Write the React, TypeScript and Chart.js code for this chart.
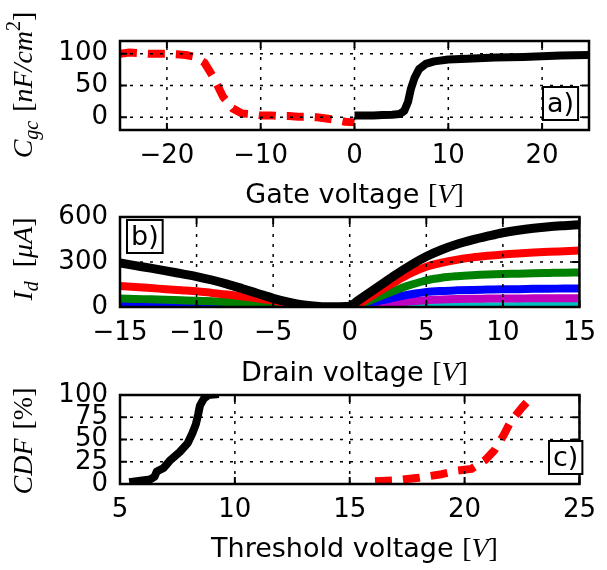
import React, { useEffect, useRef } from "react";
import { Chart, registerables } from "chart.js";

Chart.register(...registerables);

// ---------------- data ----------------
// Panel a) gate capacitance vs gate voltage
const gateVoltageRed = [-25, -24, -23, -22, -21, -20, -19, -18, -17, -16, -15, -14, -13, -12, -11, -10, -9, -8, -7, -6, -5, -4, -3, -2, -1, 0];
const cgcRed = [100, 102, 101, 100, 100, 100, 99, 98, 95, 86, 62, 32, 14, 6, 5, 3, 3, 2, 2, 1, 1, 0, -2, -4, -7, -8];
const gateVoltageBlack = [0, 1, 2, 3, 4, 4.8, 5.3, 5.7, 6.0, 6.4, 6.9, 7.6, 8.5, 10, 12, 15, 18, 20, 22, 25];
const cgcBlack = [3, 3, 3, 3.5, 4, 5, 10, 24, 44, 62, 76, 84, 88, 91, 92, 94, 95, 96, 97, 98];
const gateXTicks = [-20, -10, 0, 10, 20];
const gateYTicks = [0, 50, 100];

// Panel b) drain current vs drain voltage
const drainVoltage = [-15, -14, -13, -12, -11, -10, -9, -8, -7, -6, -5, -4, -3, -2, -1, 0, 0.5, 1, 2, 3, 4, 5, 6, 7, 8, 9, 10, 11, 12, 13, 14, 15];
const idBlack = [293, 276, 259, 241, 222, 203, 180, 153, 122, 90, 58, 32, 13, 4, 2, 5, 40, 75, 145, 215, 280, 337, 382, 418, 447, 472, 495, 512, 525, 535, 542, 548];
const idRed = [140, 133, 126, 119, 112, 105, 94, 83, 70, 57, 43, 24, 6, 0, 0, 0, 15, 45, 110, 170, 225, 268, 295, 315, 330, 341, 350, 357, 363, 368, 372, 376];
const idGreen = [57, 54, 51, 48, 45, 42, 38, 33, 27, 21, 15, 8, 2, 0, 0, 0, 10, 30, 72, 112, 148, 178, 195, 205, 212, 217, 220, 222, 225, 227, 229, 230];
const idBlue = [8, 6, 4, 3, 2, 1, 0, 0, 0, 0, 0, 0, 0, 0, 0, 0, 6, 18, 42, 65, 85, 100, 107, 111, 114, 116, 118, 119, 121, 122, 123, 124];
const idMagenta = [0, 0, 0, 0, 0, 0, 0, 0, 0, 0, 0, 0, 0, 0, 0, 0, 3, 8, 18, 29, 38, 45, 50, 53, 55, 56, 57, 57, 58, 58, 58, 58];
const idCyan = [0, 0, 0, 0, 0, 0, 0, 0, 0, 0, 0, 0, 0, 0, 0, 0, 0, 1, 2, 3, 3, 4, 4, 5, 5, 5, 5, 6, 6, 6, 6, 6];
const drainXTicks = [-15, -10, -5, 0, 5, 10, 15];
const drainYTicks = [0, 300, 600];

// Panel c) CDF of threshold voltage
const thresholdBlack = [5.4, 6.3, 6.5, 6.6, 6.9, 7.2, 7.6, 7.95, 8.15, 8.3, 8.4, 8.48, 8.65, 8.85, 9.3];
const cdfBlack = [2, 5, 8, 14, 18, 27, 36, 46, 57, 67, 78, 88, 96, 100, 101];
const thresholdRed = [16.1, 17, 18, 19, 19.7, 20.3, 20.9, 21.3, 21.7, 22.0, 22.5, 23.0];
const cdfRed = [3, 4, 7, 11, 15, 17, 27, 38, 55, 70, 86, 100];
const thresholdXTicks = [5, 10, 15, 20, 25];
const thresholdYTicks = [0, 25, 50, 75, 100];

// ---------------- layout ----------------
const W = 607;
const H = 570;
const FRAME_L = 120;
const FRAME_R = 589;
const XAXIS_H = 40;

type Seg = { t?: string; f?: string; dy?: number; gap?: number };

const mi = (s: number) => `italic ${s}px "Liberation Serif"`;
const mr = (s: number) => `${s}px "Liberation Serif"`;
const sans = (s: number) => `${s}px "DejaVu Sans"`;

function drawRich(ctx: CanvasRenderingContext2D, segs: Seg[], cx: number, cy: number, rot: number) {
  ctx.save();
  ctx.translate(cx, cy);
  ctx.rotate(rot);
  ctx.textBaseline = "alphabetic";
  ctx.textAlign = "left";
  ctx.fillStyle = "#000";
  let total = 0;
  const widths: number[] = [];
  for (const s of segs) {
    if (s.gap !== undefined) {
      widths.push(s.gap);
    } else {
      ctx.font = s.f as string;
      widths.push(ctx.measureText(s.t as string).width);
    }
    total += widths[widths.length - 1];
  }
  let x = -total / 2;
  segs.forEach((s, i) => {
    if (s.gap === undefined) {
      ctx.font = s.f as string;
      ctx.fillText(s.t as string, x, s.dy || 0);
    }
    x += widths[i];
  });
  ctx.restore();
}

const fmt = (v: number) => (v < 0 ? "\u2212" + Math.abs(v) : String(v));

type PanelCfg = {
  top: number;
  bottom: number;
  xMin: number;
  xMax: number;
  yMin: number;
  yMax: number;
  xTicks: number[];
  yTicks: number[];
  datasets: any[];
  box: { label: string; x: number; y: number };
  xTitle: Seg[];
  xTitleY: number;
  yTitle: Seg[];
  yTitleX: number;
  yTitleY: number;
};

function panelPlugin(cfg: PanelCfg) {
  return {
    id: "panelDecor",
    afterDatasetsDraw(chart: any) {
      const { ctx, chartArea: a, scales } = chart;
      const xs = scales.x;
      const ys = scales.y;
      ctx.save();
      // dotted grid (drawn over lines, like classic matplotlib)
      ctx.strokeStyle = "#000";
      ctx.lineWidth = 1.5;
      ctx.setLineDash([3, 7]);
      for (const v of cfg.xTicks) {
        const px = xs.getPixelForValue(v);
        ctx.beginPath();
        ctx.moveTo(px, a.bottom);
        ctx.lineTo(px, a.top);
        ctx.stroke();
      }
      for (const v of cfg.yTicks) {
        const py = ys.getPixelForValue(v);
        ctx.beginPath();
        ctx.moveTo(a.left, py);
        ctx.lineTo(a.right, py);
        ctx.stroke();
      }
      ctx.setLineDash([]);
      // inward ticks on all sides
      const L = 7;
      ctx.lineWidth = 2;
      ctx.beginPath();
      for (const v of cfg.xTicks) {
        const px = xs.getPixelForValue(v);
        ctx.moveTo(px, a.bottom);
        ctx.lineTo(px, a.bottom - L);
        ctx.moveTo(px, a.top);
        ctx.lineTo(px, a.top + L);
      }
      for (const v of cfg.yTicks) {
        const py = ys.getPixelForValue(v);
        ctx.moveTo(a.left, py);
        ctx.lineTo(a.left + L, py);
        ctx.moveTo(a.right, py);
        ctx.lineTo(a.right - L, py);
      }
      ctx.stroke();
      // frame
      ctx.lineWidth = 2.5;
      ctx.strokeRect(a.left, a.top, a.right - a.left, a.bottom - a.top);
      // panel label box
      ctx.font = sans(27);
      const tw = ctx.measureText(cfg.box.label).width;
      const bw = tw + 8;
      const bh = 33;
      ctx.fillStyle = "#fff";
      ctx.fillRect(cfg.box.x, cfg.box.y, bw, bh);
      ctx.lineWidth = 2;
      ctx.strokeRect(cfg.box.x, cfg.box.y, bw, bh);
      ctx.fillStyle = "#000";
      ctx.textAlign = "left";
      ctx.textBaseline = "alphabetic";
      ctx.fillText(cfg.box.label, cfg.box.x + 4, cfg.box.y + 24.5);
      ctx.restore();
    },
    afterDraw(chart: any) {
      const ctx = chart.ctx;
      drawRich(ctx, cfg.xTitle, (FRAME_L + FRAME_R) / 2, cfg.xTitleY, 0);
      drawRich(ctx, cfg.yTitle, cfg.yTitleX, cfg.yTitleY, -Math.PI / 2);
    },
  };
}

function line(xs: number[], ys: number[], color: string, width: number, extra: any = {}) {
  return {
    data: xs.map((x, i) => ({ x, y: ys[i] })),
    borderColor: color,
    backgroundColor: color,
    borderWidth: width,
    pointRadius: 0,
    fill: false,
    tension: 0,
    clip: 0,
    borderCapStyle: "butt",
    borderJoinStyle: "round",
    ...extra,
  };
}

function makeChart(canvas: HTMLCanvasElement, cfg: PanelCfg) {
  const tickFont = { family: "DejaVu Sans", size: 26 };
  return new Chart(canvas, {
    type: "line",
    data: { datasets: cfg.datasets },
    options: {
      animation: false,
      responsive: false,
      events: [],
      layout: {
        padding: { left: 0, right: W - FRAME_R, top: cfg.top, bottom: H - cfg.bottom - XAXIS_H },
      },
      plugins: { legend: { display: false }, tooltip: { enabled: false } },
      scales: {
        x: {
          type: "linear",
          position: "bottom",
          min: cfg.xMin,
          max: cfg.xMax,
          afterBuildTicks: (s: any) => {
            s.ticks = cfg.xTicks.map((v) => ({ value: v }));
          },
          afterFit: (s: any) => {
            s.height = XAXIS_H;
          },
          grid: { display: false, drawTicks: false },
          border: { display: false },
          ticks: {
            autoSkip: false,
            maxRotation: 0,
            minRotation: 0,
            padding: 11,
            color: "#000",
            font: tickFont,
            callback: (v: any) => fmt(Number(v)),
          },
        },
        y: {
          type: "linear",
          position: "left",
          min: cfg.yMin,
          max: cfg.yMax,
          afterBuildTicks: (s: any) => {
            s.ticks = cfg.yTicks.map((v) => ({ value: v }));
          },
          afterFit: (s: any) => {
            s.width = FRAME_L;
          },
          grid: { display: false, drawTicks: false },
          border: { display: false },
          ticks: {
            autoSkip: false,
            padding: 12,
            color: "#000",
            font: tickFont,
            callback: (v: any) => fmt(Number(v)),
          },
        },
      },
    } as any,
    plugins: [panelPlugin(cfg) as any],
  });
}

const DASH = [17, 11];

const panelA: PanelCfg = {
  top: 41,
  bottom: 130,
  xMin: -25,
  xMax: 25,
  yMin: -20,
  yMax: 120,
  xTicks: gateXTicks,
  yTicks: gateYTicks,
  datasets: [
    line(gateVoltageBlack, cgcBlack, "#000000", 8),
    line(gateVoltageRed, cgcRed, "#ff0000", 8, { borderDash: DASH }),
  ],
  box: { label: "a)", x: 543, y: 87 },
  xTitle: [
    { t: "Gate voltage ", f: sans(27) },
    { t: "[", f: mr(28) },
    { t: "V", f: mi(28) },
    { t: "]", f: mr(28) },
  ],
  xTitleY: 203,
  yTitle: [
    { t: "C", f: mi(28) },
    { t: "gc", f: mi(20), dy: 6 },
    { gap: 9 },
    { t: "[", f: mr(28) },
    { t: "nF/cm", f: mi(28) },
    { t: "2", f: mr(20), dy: -12 },
    { t: "]", f: mr(28) },
  ],
  yTitleX: 32,
  yTitleY: 85,
};

const panelB: PanelCfg = {
  top: 217,
  bottom: 307,
  xMin: -15,
  xMax: 15,
  yMin: 0,
  yMax: 600,
  xTicks: drainXTicks,
  yTicks: drainYTicks,
  datasets: [
    line(drainVoltage, idBlack, "#000000", 9, { cubicInterpolationMode: "monotone" }),
    line(drainVoltage, idRed, "#ff0000", 8, { cubicInterpolationMode: "monotone" }),
    line(drainVoltage, idGreen, "#008000", 8, { cubicInterpolationMode: "monotone" }),
    line(drainVoltage, idBlue, "#0000ff", 8, { cubicInterpolationMode: "monotone" }),
    line(drainVoltage, idMagenta, "#bf00bf", 8, { cubicInterpolationMode: "monotone" }),
    line(drainVoltage, idCyan, "#00bfbf", 8, { cubicInterpolationMode: "monotone" }),
  ],
  box: { label: "b)", x: 127, y: 220 },
  xTitle: [
    { t: "Drain voltage ", f: sans(27) },
    { t: "[", f: mr(28) },
    { t: "V", f: mi(28) },
    { t: "]", f: mr(28) },
  ],
  xTitleY: 381,
  yTitle: [
    { t: "I", f: mi(28) },
    { t: "d", f: mi(20), dy: 6 },
    { gap: 14 },
    { t: "[", f: mr(28) },
    { t: "\u03bcA", f: mi(28) },
    { t: "]", f: mr(28) },
  ],
  yTitleX: 32,
  yTitleY: 259,
};

const panelC: PanelCfg = {
  top: 395,
  bottom: 484,
  xMin: 5,
  xMax: 25,
  yMin: 0,
  yMax: 100,
  xTicks: thresholdXTicks,
  yTicks: thresholdYTicks,
  datasets: [
    line(thresholdBlack, cdfBlack, "#000000", 8),
    line(thresholdRed, cdfRed, "#ff0000", 8, { borderDash: DASH }),
  ],
  box: { label: "c)", x: 549, y: 441 },
  xTitle: [
    { t: "Threshold voltage ", f: sans(27) },
    { t: "[", f: mr(28) },
    { t: "V", f: mi(28) },
    { t: "]", f: mr(28) },
  ],
  xTitleY: 557,
  yTitle: [
    { t: "CDF", f: mi(28) },
    { gap: 9 },
    { t: "[", f: mr(28) },
    { t: "%", f: mr(28) },
    { t: "]", f: mr(28) },
  ],
  yTitleX: 32,
  yTitleY: 441,
};

export default function App() {
  const refA = useRef<HTMLCanvasElement | null>(null);
  const refB = useRef<HTMLCanvasElement | null>(null);
  const refC = useRef<HTMLCanvasElement | null>(null);

  useEffect(() => {
    const charts: Chart[] = [];
    if (refA.current) charts.push(makeChart(refA.current, panelA));
    if (refB.current) charts.push(makeChart(refB.current, panelB));
    if (refC.current) charts.push(makeChart(refC.current, panelC));
    return () => charts.forEach((c) => c.destroy());
  }, []);

  const cs: React.CSSProperties = { position: "absolute", left: 0, top: 0, width: W, height: H, display: "block" };
  return (
    <div style={{ position: "fixed", left: 0, top: 0, width: W, height: H, background: "#fff" }}>
      <canvas ref={refA} width={W} height={H} style={cs} />
      <canvas ref={refB} width={W} height={H} style={cs} />
      <canvas ref={refC} width={W} height={H} style={cs} />
    </div>
  );
}
